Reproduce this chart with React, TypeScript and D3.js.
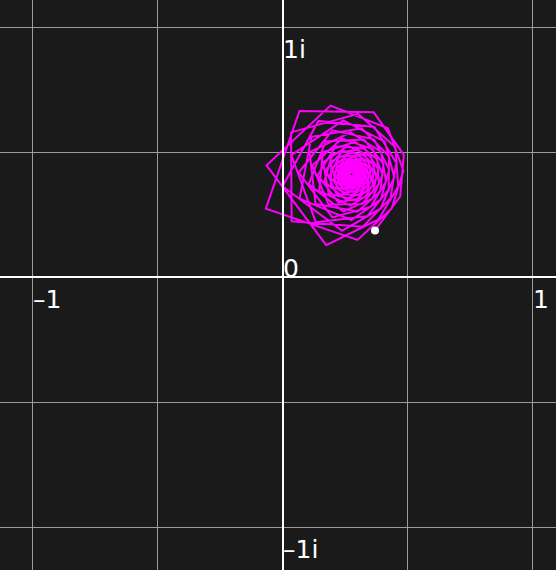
import React from 'react';
import * as d3 from 'd3';

// orbit of 0 under z -> z^2 + c (first point is c itself)
const orbit: [number, number][] = [
  [0.3680, 0.1860], [0.4688, 0.3229], [0.4835, 0.4888], [0.3629, 0.6587], [0.0659, 0.6641],
  [-0.0687, 0.2735], [0.2979, 0.1484], [0.4347, 0.2744], [0.4817, 0.4246], [0.4197, 0.5951],
  [0.1901, 0.6855], [-0.0658, 0.4466], [0.1729, 0.1273], [0.3817, 0.2300], [0.4608, 0.3616],
  [0.4496, 0.5192], [0.3005, 0.6529], [0.0321, 0.5784], [0.0345, 0.2231], [0.3194, 0.2014],
  [0.4295, 0.3147], [0.4534, 0.4563], [0.3654, 0.5998], [0.1418, 0.6244], [-0.0017, 0.3631],
  [0.2362, 0.1848], [0.3896, 0.2733], [0.4451, 0.3990], [0.4070, 0.5412], [0.2407, 0.6265],
  [0.0334, 0.4877], [0.1313, 0.2186], [0.3374, 0.2434], [0.4226, 0.3503], [0.4239, 0.4821],
  [0.3153, 0.5947], [0.1137, 0.5610], [0.0662, 0.3136], [0.2740, 0.2275], [0.3913, 0.3107],
  [0.4246, 0.4292], [0.3641, 0.5505], [0.1976, 0.5869], [0.0626, 0.4179], [0.1973, 0.2383],
  [0.3501, 0.2800], [0.4122, 0.3821], [0.3919, 0.5010], [0.2706, 0.5786], [0.1064, 0.4992],
  [0.1301, 0.2922], [0.2995, 0.2621], [0.3890, 0.3430], [0.4017, 0.4529], [0.3243, 0.5498],
  [0.1708, 0.5426], [0.1028, 0.3714], [0.2406, 0.2623], [0.3571, 0.3123], [0.3980, 0.4090],
  [0.3591, 0.5116], [0.2353, 0.5534], [0.1170, 0.4464], [0.1824, 0.2905], [0.3169, 0.2920],
  [0.3832, 0.3711], [0.3771, 0.4704], [0.2890, 0.5408], [0.1591, 0.4986], [0.1448, 0.3446],
  [0.2702, 0.2858], [0.3593, 0.3404], [0.3812, 0.4306], [0.3279, 0.5144], [0.2109, 0.5233],
  [0.1387, 0.4068], [0.2218, 0.2988], [0.3279, 0.3185], [0.3741, 0.3949], [0.3520, 0.4814],
  [0.2601, 0.5249], [0.1601, 0.4591], [0.1829, 0.3330], [0.2905, 0.3078], [0.3577, 0.3649],
  [0.3628, 0.4470], [0.2998, 0.5103], [0.1975, 0.4920], [0.1649, 0.3803], [0.2506, 0.3114],
  [0.3338, 0.3421], [0.3624, 0.4144], [0.3276, 0.4863], [0.2388, 0.5047], [0.1703, 0.4271],
  [0.2146, 0.3315], [0.3042, 0.3283], [0.3528, 0.3857], [0.3437, 0.4581], [0.2762, 0.5009],
  [0.1934, 0.4627], [0.1913, 0.3650], [0.2714, 0.3257], [0.3356, 0.3628], [0.3490, 0.4295],
  [0.3054, 0.4858], [0.2252, 0.4827], [0.1857, 0.4035], [0.2397, 0.3359], [0.3127, 0.3470],
  [0.3453, 0.4030], [0.3248, 0.4643], [0.2579, 0.4877], [0.1967, 0.4375], [0.2152, 0.3581],
  [0.2861, 0.3402], [0.3341, 0.3806], [0.3348, 0.4404], [0.2862, 0.4808], [0.2187, 0.4612],
  [0.2031, 0.3877], [0.2589, 0.3435], [0.3170, 0.3645], [0.3357, 0.4171], [0.3067, 0.4660],
  [0.2449, 0.4718], [0.2053, 0.4171], [0.2362, 0.3573], [0.2961, 0.3548], [0.3298, 0.3961],
  [0.3199, 0.4473], [0.2702, 0.4722], [0.2181, 0.4412], [0.2209, 0.3784], [0.2736, 0.3532],
  [0.3181, 0.3793], [0.3253, 0.4273], [0.2913, 0.4640], [0.2375, 0.4563], [0.2162, 0.4028],
  [0.2525, 0.3601], [0.3021, 0.3679], [0.3239, 0.4083], [0.3062, 0.4505], [0.2589, 0.4619],
  [0.2217, 0.4251], [0.2364, 0.3745], [0.2837, 0.3630], [0.3167, 0.3920], [0.3146, 0.4342],
  [0.2784, 0.4593], [0.2346, 0.4417], [0.2279, 0.3933], [0.2653, 0.3653], [0.3050, 0.3798],
  [0.3168, 0.4176], [0.2939, 0.4506], [0.2514, 0.4509], [0.2279, 0.4127], [0.2496, 0.3741],
  [0.2904, 0.3728], [0.3134, 0.4025], [0.3042, 0.4382], [0.2685, 0.4526], [0.2352, 0.4290],
  [0.2393, 0.3878], [0.2748, 0.3716], [0.3055, 0.3902], [0.3090, 0.4244], [0.2834, 0.4483],
  [0.2473, 0.4401], [0.2355, 0.4037], [0.2605, 0.3761], [0.2944, 0.3820], [0.3088, 0.4109],
  [0.2945, 0.4397], [0.2614, 0.4450], [0.2383, 0.4186], [0.2495, 0.3855], [0.2817, 0.3784],
  [0.3041, 0.3992], [0.3012, 0.4288], [0.2748, 0.4443], [0.2461, 0.4302], [0.2435, 0.3978],
  [0.2691, 0.3797], [0.2962, 0.3903], [0.3034, 0.4172], [0.2859, 0.4392], [0.2569, 0.4372],
  [0.2429, 0.4106], [0.2584, 0.3855], [0.2862, 0.3852], [0.3015, 0.4065], [0.2937, 0.4311],
  [0.2684, 0.4392], [0.2471, 0.4218], [0.2512, 0.3945], [0.2755, 0.3842], [0.2963, 0.3977],
  [0.2977, 0.4217], [0.2788, 0.4370], [0.2547, 0.4297], [0.2483, 0.4049], [0.2657, 0.3870],
  [0.2888, 0.3917], [0.2980, 0.4122], [0.2869, 0.4317], [0.2639, 0.4337], [0.2496, 0.4149],
  [0.2581, 0.3931], [0.2801, 0.3889], [0.2952, 0.4039], [0.2920, 0.4244], [0.2731, 0.4339],
  [0.2544, 0.4230], [0.2538, 0.4012], [0.2714, 0.3896], [0.2899, 0.3975], [0.2940, 0.4165],
  [0.2810, 0.4309], [0.2613, 0.4282], [0.2530, 0.4098], [0.2641, 0.3933], [0.2831, 0.3937],
  [0.2931, 0.4089], [0.2867, 0.4257], [0.2690, 0.4301], [0.2554, 0.4174], [0.2590, 0.3992],
  [0.2757, 0.3928], [0.2898, 0.4026], [0.2899, 0.4193], [0.2762, 0.4291], [0.2602, 0.4230],
  [0.2567, 0.4061], [0.2690, 0.3945], [0.2847, 0.3982], [0.2905, 0.4128], [0.2820, 0.4258],
  [0.2662, 0.4261], [0.2573, 0.4129], [0.2637, 0.3985], [0.2788, 0.3962], [0.2888, 0.4069],
  [0.2858, 0.4210], [0.2725, 0.4267], [0.2602, 0.4185], [0.2605, 0.4038], [0.2728, 0.3964],
  [0.2853, 0.4023], [0.2875, 0.4156], [0.2780, 0.4250], [0.2647, 0.4223], [0.2597, 0.4095],
  [0.2677, 0.3987], [0.2807, 0.3995], [0.2872, 0.4103], [0.2821, 0.4216], [0.2698, 0.4239],
  [0.2611, 0.4148], [0.2641, 0.4026], [0.2757, 0.3987], [0.2851, 0.4058], [0.2846, 0.4174],
  [0.2748, 0.4235], [0.2641, 0.4188], [0.2624, 0.4072], [0.2710, 0.3997], [0.2817, 0.4027],
  [0.2852, 0.4129], [0.2789, 0.4215], [0.2681, 0.4211], [0.2625, 0.4118], [0.2674, 0.4022],
  [0.2777, 0.4011], [0.2842, 0.4087], [0.2817, 0.4184], [0.2723, 0.4217], [0.2643, 0.4157],
  [0.2650, 0.4057], [0.2736, 0.4011], [0.2820, 0.4055], [0.2831, 0.4147], [0.2762, 0.4208],
  [0.2672, 0.4184], [0.2643, 0.4096], [0.2701, 0.4025], [0.2789, 0.4034], [0.2830, 0.4110],
  [0.2792, 0.4187], [0.2706, 0.4198], [0.2651, 0.4132], [0.2675, 0.4050], [0.2755, 0.4027],
  [0.2817, 0.4079], [0.2810, 0.4158], [0.2740, 0.4197], [0.2670, 0.4160], [0.2662, 0.4081],
];

const gridRe = [-1, -0.5, 0.5, 1];
const gridIm = [-1, -0.5, 0.5, 1];
const reTicks = [-1, 1];
const reTickLabels = ["\u20131", "1"];
const imTicks = [1, -1];
const imTickLabels = ["1i", "\u20131i"];

const width = 556;
const height = 570;

const colors = {
  bg: "#1a1a1a",
  grid: "#9c9c9c",
  axis: "#ffffff",
  orbit: "#ff00ff",
  text: "#ffffff",
};

export default function App() {
  const x = d3.scaleLinear().domain([-1.132, 1.092]).range([0, width]);
  const y = d3.scaleLinear().domain([1.108, -1.172]).range([0, height]);

  const line = d3.line<[number, number]>()
    .x(d => x(d[0]))
    .y(d => y(d[1]));

  const x0 = x(0);
  const y0 = y(0);
  const font = { fontFamily: "'DejaVu Sans', sans-serif", fontSize: 25 };

  return (
    <div style={{ position: "fixed", left: 0, top: 0 }}>
      <svg width={width} height={height} style={{ display: "block", background: colors.bg }}>
        <rect width={width} height={height} fill={colors.bg} />
        <g stroke={colors.grid} strokeWidth={1}>
          {gridRe.map(v => (
            <line key={"gx" + v} x1={Math.round(x(v)) - 0.5} x2={Math.round(x(v)) - 0.5} y1={0} y2={height} />
          ))}
          {gridIm.map(v => (
            <line key={"gy" + v} x1={0} x2={width} y1={Math.round(y(v)) + 0.5} y2={Math.round(y(v)) + 0.5} />
          ))}
        </g>
        <path d={line(orbit) ?? ""} fill="none" stroke={colors.orbit} strokeWidth={2} strokeLinejoin="miter" />
        <g stroke={colors.axis} strokeWidth={2}>
          <line x1={x0} x2={x0} y1={0} y2={height} />
          <line x1={0} x2={width} y1={y0} y2={y0} />
        </g>
        <g fill={colors.text} style={font}>
          <text x={x0} y={y0 - 0.5}>0</text>
          {reTicks.map((v, i) => (
            <text key={"rt" + v} x={x(v)} y={y0 + 31}>{reTickLabels[i]}</text>
          ))}
          {imTicks.map((v, i) => (
            <text key={"it" + v} x={x0} y={y(v) + 31}>{imTickLabels[i]}</text>
          ))}
        </g>
        <circle cx={x(orbit[0][0])} cy={y(orbit[0][1])} r={4} fill="#ffffff" />
      </svg>
    </div>
  );
}
